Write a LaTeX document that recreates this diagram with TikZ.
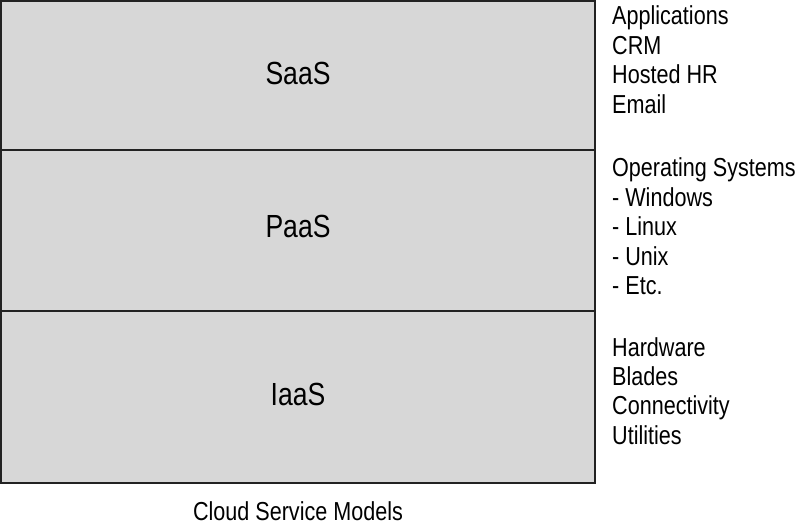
\documentclass[tikz,border=0pt]{standalone}
\usepackage{fontspec}
\setmainfont{Liberation Sans}[FakeStretch=0.83]
\definecolor{layerfill}{HTML}{D7D7D7}
\definecolor{edge}{HTML}{222222}
\begin{document}
\begin{tikzpicture}[x=1pt, y=-1pt,
  layer/.style={draw=edge, line width=2.2pt, fill=layerfill},
  tier/.style={anchor=base, inner sep=0pt, font=\fontsize{32}{38}\selectfont},
  item/.style={anchor=base west, inner sep=0pt, font=\fontsize{26}{30}\selectfont}]
  \useasboundingbox (0,0) rectangle (800,526);

  % Schichten
  \draw[layer] (1,1) rectangle (595,150);
  \draw[layer] (1,150) rectangle (595,311);
  \draw[layer] (1,311) rectangle (595,483);
  \node[tier] (saas) at (298,85) {SaaS};
  \node[tier] (paas) at (298,238) {PaaS};
  \node[tier] (iaas) at (298,405) {IaaS};

  % Listen rechts
  \foreach \t [count=\i] in {Applications, CRM, Hosted HR, Email}
    \node[item] (app\i) at (612,25+29.4*\i-29.4) {\t};
  \foreach \t [count=\i] in {Operating Systems, - Windows, - Linux, - Unix, - Etc.}
    \node[item] (os\i) at (612,177+29.4*\i-29.4) {\t};
  \foreach \t [count=\i] in {Hardware, Blades, Connectivity, Utilities}
    \node[item] (hw\i) at (612,356+29.4*\i-29.4) {\t};

  % Titel
  \node[item, anchor=base] (title) at (298,520) {Cloud Service Models};
\end{tikzpicture}
\end{document}
